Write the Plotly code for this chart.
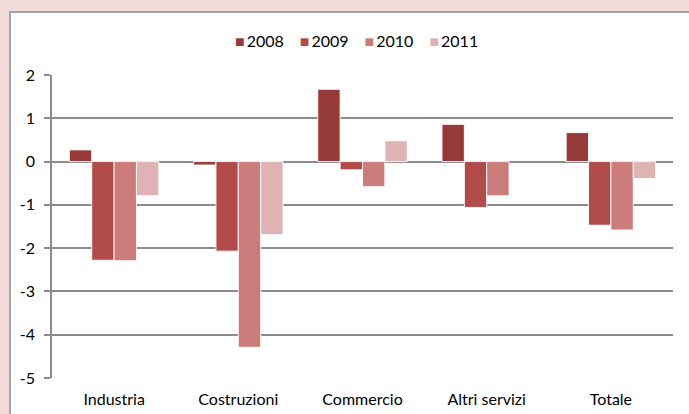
import plotly.graph_objects as go

# Variazioni annue per settore
categories = ["Industria", "Costruzioni", "Commercio", "Altri servizi", "Totale"]
years = ["2008", "2009", "2010", "2011"]
v2008 = [0.27, -0.08, 1.67, 0.86, 0.67]
v2009 = [-2.28, -2.07, -0.19, -1.06, -1.47]
v2010 = [-2.29, -4.29, -0.58, -0.79, -1.58]
v2011 = [-0.79, -1.69, 0.48, None, -0.39]
series = [v2008, v2009, v2010, v2011]
colors = ["#953A39", "#B14B49", "#CB7B7A", "#DFB3B3"]
y_ticks = [2, 1, 0, -1, -2, -3, -4, -5]

W, H = 689, 414
ML, MR, MT, MB = 52, 16, 75, 36
pw, ph = W - ML - MR, H - MT - MB
FONT = "Lato, Open Sans, sans-serif"

fig = go.Figure()
for name, vals, col in zip(years, series, colors):
    fig.add_trace(go.Bar(
        x=categories, y=vals, name=name, showlegend=False,
        marker=dict(color=col, line=dict(color="rgba(255,255,255,0.9)", width=1)),
    ))

# white chart frame on pink page
fig.add_shape(
    type="rect", xref="paper", yref="paper", layer="below",
    x0=(10 - ML) / pw, x1=1 + (MR + 20) / pw,
    y0=-(MB + 20) / ph, y1=1 + (MT - 12) / ph,
    fillcolor="white", line=dict(color="#A6A6A6", width=2),
)

# compact legend row: coloured square + year
legend_text = "\u2002\u2002".join(
    f"<span style='color:{c}'>■</span>\u2009{y}" for y, c in zip(years, colors)
)
fig.add_annotation(
    text=legend_text, xref="paper", yref="paper",
    x=(356 - ML) / pw, y=1 + (MT - 41) / ph,
    xanchor="center", yanchor="middle", showarrow=False,
    font=dict(family=FONT, size=16, color="#000000"),
)

grid = "#8C8C8C"
fig.update_layout(
    width=W, height=H,
    margin=dict(l=ML, r=MR, t=MT, b=MB, autoexpand=False),
    paper_bgcolor="#F2DCDB",
    plot_bgcolor="rgba(0,0,0,0)",
    barmode="group", bargap=0.28, bargroupgap=0.0,
    font=dict(family=FONT, size=16, color="#000000"),
    showlegend=False,
    xaxis=dict(
        showgrid=False, showline=False, ticks="", zeroline=False,
        tickfont=dict(size=16), ticklabelstandoff=10, automargin=False,
    ),
    yaxis=dict(
        range=[-5, 2], tickvals=y_ticks, ticktext=[str(t) for t in y_ticks],
        showgrid=True, gridcolor=grid, gridwidth=1.5,
        zeroline=True, zerolinecolor=grid, zerolinewidth=2,
        showline=True, linecolor=grid, linewidth=1.5,
        ticks="outside", ticklen=6, tickcolor=grid, tickwidth=1.5,
        tickfont=dict(size=16), ticklabelstandoff=6, automargin=False,
    ),
)

fig.write_html("out.html")
